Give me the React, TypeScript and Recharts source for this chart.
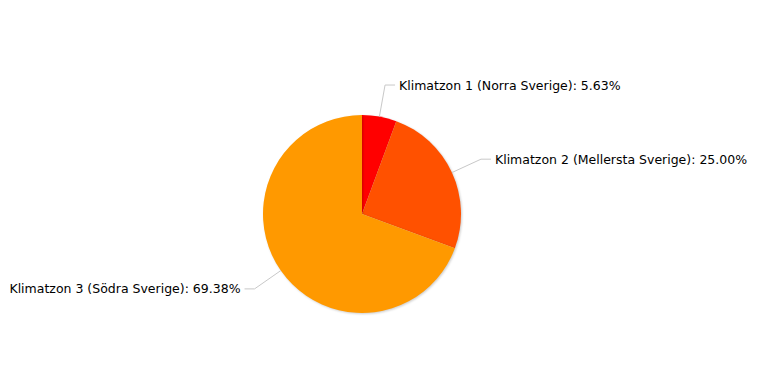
import { PieChart, Pie, Cell } from "recharts"

const zones = ["Klimatzon 1 (Norra Sverige)", "Klimatzon 2 (Mellersta Sverige)", "Klimatzon 3 (Södra Sverige)"]
const shares = [5.63, 25.0, 69.38]
const colors = ["#ff0000", "#ff5100", "#ff9900"]

const data = zones.map((name, i) => ({ name, value: shares[i] }))

const RAD = Math.PI / 180

function renderLabel(props: any) {
  const { cx, cy, midAngle, outerRadius, index } = props
  const sin = Math.sin(-midAngle * RAD)
  const cos = Math.cos(-midAngle * RAD)
  const x0 = cx + outerRadius * cos
  const y0 = cy + outerRadius * sin
  const x1 = cx + (outerRadius + 32) * cos
  const y1 = cy + (outerRadius + 32) * sin
  const right = cos >= 0
  const x2 = x1 + (right ? 10 : -10)
  const tx = x2 + (right ? 4 : -4)
  return (
    <g key={`lbl-${index}`}>
      <path d={`M${x0},${y0}L${x1},${y1}L${x2},${y1}`} stroke="#c8c8c8" strokeWidth={1} fill="none" />
      <text
        x={tx}
        y={y1}
        textAnchor={right ? "start" : "end"}
        dominantBaseline="central"
        fill="#000"
        fontSize={12.5}
        fontFamily="'DejaVu Sans', Verdana, sans-serif"
      >
        {`${data[index].name}: ${data[index].value.toFixed(2)}%`}
      </text>
    </g>
  )
}

export default function App() {
  return (
    <div style={{ position: "absolute", left: 0, top: 0, width: 778, height: 383, background: "#fff" }}>
      <style>{`.recharts-pie-sector path { filter: drop-shadow(1px 1px 1px rgba(0,0,0,0.2)); }`}</style>
      <PieChart width={778} height={383} margin={{ top: 0, right: 0, bottom: 0, left: 0 }}>
        <Pie
          data={data}
          dataKey="value"
          nameKey="name"
          cx={362}
          cy={214}
          outerRadius={99}
          startAngle={90}
          endAngle={-270}
          stroke="none"
          label={renderLabel}
          labelLine={false}
          isAnimationActive={false}
        >
          {data.map((d, i) => (
            <Cell key={d.name} fill={colors[i]} />
          ))}
        </Pie>
      </PieChart>
    </div>
  )
}
